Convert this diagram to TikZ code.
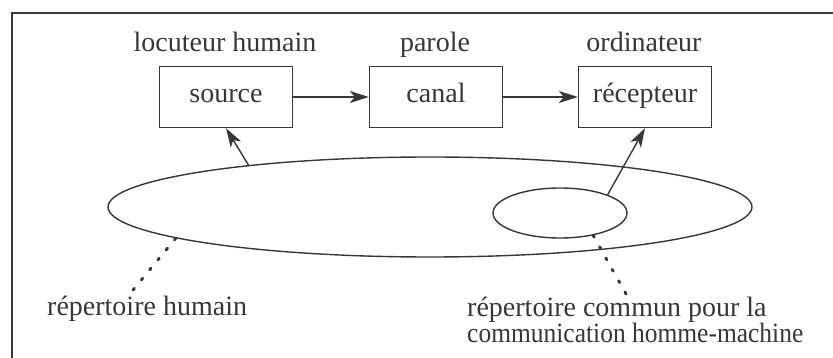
\documentclass[tikz,border=0pt]{standalone}
\usepackage{fontspec}
\usepackage{graphicx}
\setmainfont{Liberation Serif}
\usetikzlibrary{arrows.meta,shapes.geometric}
\definecolor{ink}{RGB}{55,55,55}
\begin{document}
\begin{tikzpicture}[x=1pt,y=-1pt,
  every node/.style={text=ink, font=\fontsize{28}{23.5}\selectfont, inner sep=0pt},
  boxnode/.style={draw=ink, line width=1.4pt, minimum width=133pt, minimum height=61pt,
    text height=17.5pt, text depth=7pt},
  label/.style={anchor=base},
  ell/.style={draw=ink, ellipse, line width=1.4pt},
  arr/.style={draw=ink, line width=1.4pt, -{Stealth[length=19pt,width=12pt,inset=5pt]}},
  dotline/.style={draw=ink, line width=3pt, line cap=round, dash pattern=on 2pt off 11pt}
]
\useasboundingbox (0,0) rectangle (833,358);
% frame (only top and left visible)
\draw[ink, line width=2pt] (12,358) -- (12,13) -- (833,13);

% boxes
\node[boxnode] (src) at (226,97) {source};
\node[boxnode] (can) at (436,97) {canal};
\node[boxnode] (rec) at (645,97) {récepteur};

% labels above boxes
\node[label] (lsrc) at (225,52) {locuteur humain};
\node[label] (lcan) at (435,52) {parole};
\node[label] (lrec) at (644,52) {ordinateur};

% ellipses
\node[ell, minimum width=644pt, minimum height=100pt] (big) at (430,207) {};
\node[ell, minimum width=134pt, minimum height=50pt] (small) at (560,213) {};

% arrows
\draw[arr] (src) -- (can);
\draw[arr] (can) -- (rec);
\draw[arr] (big.167.8) -- (src.south);
\draw[arr] (small.21.4) -- (rec.south);

% bottom labels
\node[anchor=base west] (lhum) at (47,315) {répertoire humain};
\node[anchor=north west, align=left] (lcom) at (467,296.5) {répertoire commun pour la\\\scalebox{0.91}[1]{communication homme-machine}};

% dotted pointers
\coordinate (ph) at (133,290);
\coordinate (pc) at (626,294);
\draw[dotline] (big.187.35) -- (ph);
\draw[dotline] (small.-34.9) -- (pc);
\end{tikzpicture}
\end{document}
